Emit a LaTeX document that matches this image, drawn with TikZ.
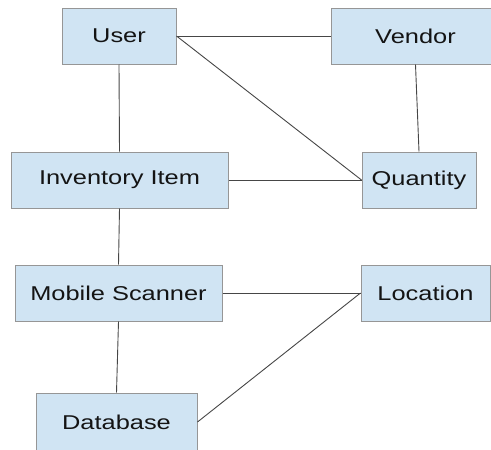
\documentclass[tikz,border=0pt]{standalone}
\usepackage{fontspec}
\setmainfont{Liberation Sans}[FakeStretch=1.27]
\begin{document}
\begin{tikzpicture}[x=1pt,y=-1pt,
  box/.style={draw={rgb,255:red,150;green,150;blue,150}, line width=1pt,
    fill={rgb,255:red,208;green,228;blue,243}, inner sep=0pt,
    font=\fontsize{20}{24}\selectfont, text={rgb,255:red,20;green,20;blue,20}},
  link/.style={draw={rgb,255:red,70;green,70;blue,70}, line width=0.9pt}]
\useasboundingbox (0,0) rectangle (491,450);
\clip (0,0) rectangle (491,450);
\node[box, minimum width=114, minimum height=56] (user) at (119,36) {User};
\node[box, minimum width=169, minimum height=56] (vendor) at (415.5,36) {Vendor};
\node[box, minimum width=217, minimum height=56] (inv) at (119.5,180) {Inventory Item};
\node[box, minimum width=114, minimum height=56] (qty) at (419,180) {Quantity};
\node[box, minimum width=207, minimum height=56] (mob) at (118.5,293) {Mobile Scanner};
\node[box, minimum width=129, minimum height=56] (loc) at (425.5,293) {Location};
\node[box, minimum width=161, minimum height=58] (db) at (116.5,422) {Database};
\draw[link] (user.east) -- (vendor.west);
\draw[link] (user.east) -- (qty.west);
\draw[link] (user.south) -- (inv.north);
\draw[link] (vendor.south) -- (qty.north);
\draw[link] (inv.east) -- (qty.west);
\draw[link] (inv.south) -- (mob.north);
\draw[link] (mob.east) -- (loc.west);
\draw[link] (mob.south) -- (db.north);
\draw[link] (db.east) -- (loc.west);
\end{tikzpicture}
\end{document}
